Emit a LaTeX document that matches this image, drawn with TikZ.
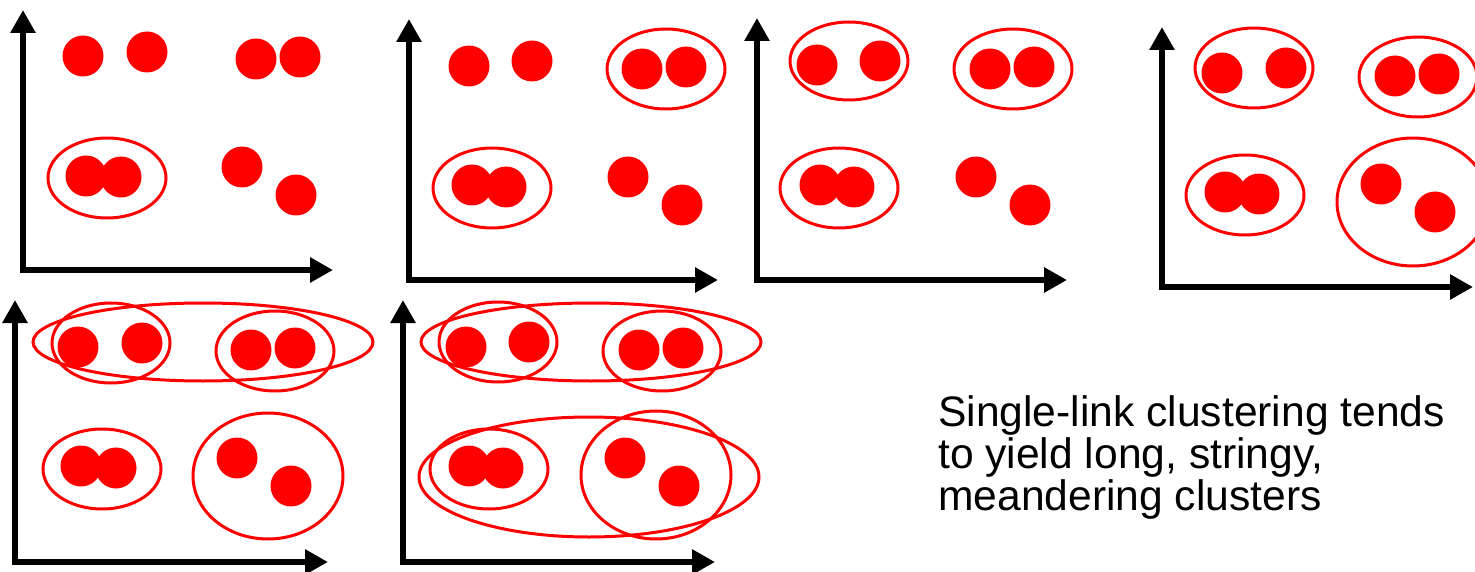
\documentclass[tikz,border=0pt]{standalone}
\usepackage{fontspec}
\setmainfont{Liberation Sans}
\usetikzlibrary{arrows.meta}
\begin{document}
\begin{tikzpicture}[x=1pt,y=-1pt,
  ptdot/.style={circle,fill=red,minimum size=41pt,inner sep=0pt,outer sep=0pt},
  clus/.style={draw=red,line width=3pt},
  axis/.style={draw=black,line width=6pt,line cap=rect,-{Triangle[length=23pt,width=24pt]}},
  caption/.style={anchor=base west,inner sep=0pt,font=\fontsize{42.6}{42.6}\selectfont}]
\useasboundingbox (0,0) rectangle (1475,572);

% ---------- Panel 1 ----------
\coordinate (o1) at (23,270); \coordinate (yt1) at (23,10); \coordinate (xt1) at (333,270);
\node[ptdot] (a1) at (83,56) {};
\node[ptdot] (a2) at (147,52) {};
\node[ptdot] (a3) at (256,59) {};
\node[ptdot] (a4) at (300,57) {};
\node[ptdot] (a5) at (86,176) {};
\node[ptdot] (a6) at (121,177) {};
\node[ptdot] (a7) at (242,167) {};
\node[ptdot] (a8) at (296,195) {};
\draw[clus] (107,178) ellipse [x radius=59pt,y radius=40pt];
\draw[axis] (o1) -- (yt1);
\draw[axis] (o1) -- (xt1);

% ---------- Panel 2 ----------
\coordinate (o2) at (409,280); \coordinate (yt2) at (409,19); \coordinate (xt2) at (718,280);
\node[ptdot] (b1) at (469,66) {};
\node[ptdot] (b2) at (532,61) {};
\node[ptdot] (b3) at (642,69) {};
\node[ptdot] (b4) at (686,67) {};
\node[ptdot] (b5) at (472,185) {};
\node[ptdot] (b6) at (506,187) {};
\node[ptdot] (b7) at (628,177) {};
\node[ptdot] (b8) at (682,205) {};
\draw[clus] (666,69) ellipse [x radius=59pt,y radius=40pt];
\draw[clus] (492,188) ellipse [x radius=59pt,y radius=40pt];
\draw[axis] (o2) -- (yt2);
\draw[axis] (o2) -- (xt2);

% ---------- Panel 3 ----------
\coordinate (o3) at (757,280); \coordinate (yt3) at (757,18); \coordinate (xt3) at (1067,280);
\node[ptdot] (c1) at (817,65) {};
\node[ptdot] (c2) at (880,61) {};
\node[ptdot] (c3) at (990,69) {};
\node[ptdot] (c4) at (1034,67) {};
\node[ptdot] (c5) at (820,185) {};
\node[ptdot] (c6) at (854,187) {};
\node[ptdot] (c7) at (976,177) {};
\node[ptdot] (c8) at (1030,205) {};
\draw[clus] (849,61) ellipse [x radius=59pt,y radius=39pt];
\draw[clus] (1013,69) ellipse [x radius=59pt,y radius=40pt];
\draw[clus] (839,188) ellipse [x radius=59pt,y radius=40pt];
\draw[axis] (o3) -- (yt3);
\draw[axis] (o3) -- (xt3);

% ---------- Panel 4 ----------
\coordinate (o4) at (1162,287); \coordinate (yt4) at (1162,27); \coordinate (xt4) at (1473,287);
\node[ptdot] (d1) at (1222,73) {};
\node[ptdot] (d2) at (1286,68) {};
\node[ptdot] (d3) at (1395,76) {};
\node[ptdot] (d4) at (1439,74) {};
\node[ptdot] (d5) at (1225,192) {};
\node[ptdot] (d6) at (1259,194) {};
\node[ptdot] (d7) at (1381,184) {};
\node[ptdot] (d8) at (1435,212) {};
\draw[clus] (1254,68) ellipse [x radius=59pt,y radius=40pt];
\draw[clus] (1418,77) ellipse [x radius=59pt,y radius=40pt];
\draw[clus] (1245,195) ellipse [x radius=59pt,y radius=40pt];
\draw[clus] (1413,202) ellipse [x radius=76pt,y radius=64pt];
\draw[axis] (o4) -- (yt4);
\draw[axis] (o4) -- (xt4);

% ---------- Panel 5 ----------
\coordinate (o5) at (15,562); \coordinate (yt5) at (15,300); \coordinate (xt5) at (328,562);
\node[ptdot] (e1) at (78,347) {};
\node[ptdot] (e2) at (142,343) {};
\node[ptdot] (e3) at (251,350) {};
\node[ptdot] (e4) at (295,348) {};
\node[ptdot] (e5) at (81,466) {};
\node[ptdot] (e6) at (116,468) {};
\node[ptdot] (e7) at (237,458) {};
\node[ptdot] (e8) at (291,486) {};
\draw[clus] (111,343) ellipse [x radius=59pt,y radius=40pt];
\draw[clus] (275,351) ellipse [x radius=59pt,y radius=40pt];
\draw[clus] (203,342) ellipse [x radius=170pt,y radius=39pt];
\draw[clus] (102,469) ellipse [x radius=59pt,y radius=40pt];
\draw[clus] (268,476) ellipse [x radius=75pt,y radius=63pt];
\draw[axis] (o5) -- (yt5);
\draw[axis] (o5) -- (xt5);

% ---------- Panel 6 ----------
\coordinate (o6) at (403,562); \coordinate (yt6) at (403,300); \coordinate (xt6) at (715,562);
\node[ptdot] (f1) at (466,347) {};
\node[ptdot] (f2) at (529,342) {};
\node[ptdot] (f3) at (639,350) {};
\node[ptdot] (f4) at (683,348) {};
\node[ptdot] (f5) at (469,466) {};
\node[ptdot] (f6) at (503,468) {};
\node[ptdot] (f7) at (625,458) {};
\node[ptdot] (f8) at (679,486) {};
\draw[clus] (498,342) ellipse [x radius=59pt,y radius=40pt];
\draw[clus] (662,351) ellipse [x radius=59pt,y radius=40pt];
\draw[clus] (591,342) ellipse [x radius=170pt,y radius=39pt];
\draw[clus] (489,469) ellipse [x radius=59pt,y radius=40pt];
\draw[clus] (656,475) ellipse [x radius=75pt,y radius=64pt];
\draw[clus] (589,477) ellipse [x radius=170pt,y radius=60pt];
\draw[axis] (o6) -- (yt6);
\draw[axis] (o6) -- (xt6);

% ---------- Caption ----------
\node[caption] (t1) at (938,426) {Single-link clustering tends};
\node[caption] (t2) at (938,468) {to yield long, stringy,};
\node[caption] (t3) at (938,510) {meandering clusters};
\end{tikzpicture}
\end{document}
